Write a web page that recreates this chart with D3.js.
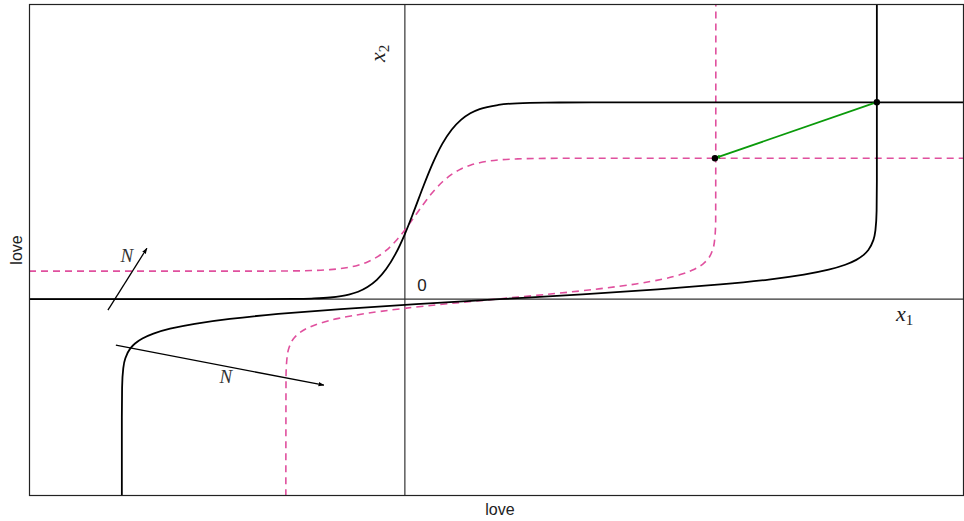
<!DOCTYPE html>
<html>
<head>
<meta charset="utf-8">
<script src="https://cdn.jsdelivr.net/npm/d3@7"></script>
<style>
  body { margin: 0; background: #fff; }
  svg { display: block; }
</style>
</head>
<body>
<div id="chart"></div>
<script>
// sigmoid nullclines x2 = f(x1)
const sigBlack = [
  [-4.02, 0], [-2.0, 0], [-1.5, 0.0005], [-1.2, 0.0023], [-1.0, 0.0064], [-0.8, 0.0173],
  [-0.6, 0.047], [-0.5, 0.076], [-0.4, 0.124], [-0.3, 0.196], [-0.2, 0.306], [-0.1, 0.46],
  [0, 0.662], [0.1, 0.902], [0.2, 1.153], [0.3, 1.385], [0.4, 1.578], [0.5, 1.722],
  [0.6, 1.822], [0.7, 1.889], [0.8, 1.931], [1.0, 1.974], [1.2, 1.991], [1.5, 1.998],
  [2.0, 2.0], [5.98, 2.0]
];
const sigPink = [
  [-4.02, 0.285], [-2.0, 0.285], [-1.5, 0.2856], [-1.2, 0.2874], [-1.0, 0.291], [-0.8, 0.3005],
  [-0.6, 0.3236], [-0.5, 0.3455], [-0.4, 0.3786], [-0.3, 0.4274], [-0.2, 0.4952], [-0.1, 0.5892],
  [0, 0.704], [0.1, 0.835], [0.2, 0.968], [0.3, 1.09], [0.4, 1.191], [0.5, 1.268],
  [0.6, 1.324], [0.7, 1.362], [0.8, 1.387], [1.0, 1.415], [1.2, 1.4258], [1.5, 1.4312],
  [2.0, 1.433], [5.98, 1.433]
];
// inverse nullclines x1 = g(x2)
const invBlack = [
  [-3.027, -2.002], [-3.027, -1.2], [-3.0244, -0.9], [-3.0116, -0.7], [-2.9895, -0.6],
  [-2.936, -0.5], [-2.886, -0.45], [-2.807, -0.4], [-2.689, -0.35], [-2.511, -0.3],
  [-2.247, -0.25], [-1.871, -0.2], [-1.354, -0.15], [-0.685, -0.1], [0.122, -0.05],
  [1.011, 0], [1.899, 0.05], [2.706, 0.1], [3.375, 0.15], [3.892, 0.2], [4.268, 0.25],
  [4.532, 0.3], [4.71, 0.35], [4.828, 0.4], [4.907, 0.45], [4.957, 0.5], [5.0105, 0.6],
  [5.0326, 0.7], [5.0454, 0.9], [5.048, 1.2], [5.048, 3.0]
];
const invPink = [
  [-1.273, -2.002], [-1.2712, -0.795], [-1.2604, -0.595], [-1.24, -0.495], [-1.185, -0.395],
  [-1.131, -0.345], [-1.044, -0.295], [-0.911, -0.245], [-0.709, -0.195], [-0.418, -0.145],
  [-0.022, -0.095], [0.472, -0.045], [1.0265, 0.005], [1.581, 0.055], [2.075, 0.105],
  [2.471, 0.155], [2.762, 0.205], [2.964, 0.255], [3.097, 0.305], [3.184, 0.355],
  [3.238, 0.405], [3.293, 0.505], [3.3134, 0.605], [3.3242, 0.805], [3.326, 3.0]
];
const fixedBlack = [5.048, 2.002];
const fixedPink = [3.316, 1.433];
const arrowsN = [
  { from: [-3.176, -0.112], to: [-2.759, 0.518], label: [-2.973, 0.427] },
  { from: [-3.091, -0.467], to: [-0.866, -0.874], label: [-1.914, -0.803] }
];
const xDomain = [-4.02, 5.98];
const yDomain = [-2, 3];

const W = 964, H = 521;
const margin = { top: 4, right: 0, bottom: 25, left: 29 };
const width = W - margin.left - margin.right;
const height = H - margin.top - margin.bottom;

const svg = d3.select("#chart").append("svg")
  .attr("width", W)
  .attr("height", H);

const defs = svg.append("defs");
defs.append("clipPath").attr("id", "clip")
  .append("rect").attr("width", width).attr("height", height);

function marker(id, color) {
  defs.append("marker")
    .attr("id", id)
    .attr("viewBox", "0 0 10 10")
    .attr("refX", 9).attr("refY", 5)
    .attr("markerWidth", 6).attr("markerHeight", 6)
    .attr("markerUnits", "userSpaceOnUse")
    .attr("orient", "auto")
    .append("path")
    .attr("d", "M0,1.5 L10,5 L0,8.5 Z")
    .attr("fill", color);
}
marker("arrBlack", "#000");
marker("arrGreen", "#0a9a0a");

const g = svg.append("g").attr("transform", `translate(${margin.left},${margin.top})`);

const x = d3.scaleLinear().domain(xDomain).range([0, width]);
const y = d3.scaleLinear().domain(yDomain).range([height, 0]);

const plot = g.append("g").attr("clip-path", "url(#clip)");

// axes through origin
plot.append("line")
  .attr("x1", 0).attr("x2", width)
  .attr("y1", y(0)).attr("y2", y(0))
  .attr("stroke", "#333").attr("stroke-width", 1.2);
plot.append("line")
  .attr("x1", x(0)).attr("x2", x(0))
  .attr("y1", 0).attr("y2", height)
  .attr("stroke", "#333").attr("stroke-width", 1.2);

const lineX = d3.line().x(d => x(d[0])).y(d => y(d[1])).curve(d3.curveMonotoneX);
const lineY = d3.line().x(d => x(d[0])).y(d => y(d[1])).curve(d3.curveMonotoneY);

const pink = "#e0509e";

plot.append("path").datum(sigPink).attr("d", lineX)
  .attr("fill", "none").attr("stroke", pink).attr("stroke-width", 1.6)
  .attr("stroke-dasharray", "7,5");
plot.append("path").datum(invPink).attr("d", lineY)
  .attr("fill", "none").attr("stroke", pink).attr("stroke-width", 1.6)
  .attr("stroke-dasharray", "7,5");
plot.append("path").datum(sigBlack).attr("d", lineX)
  .attr("fill", "none").attr("stroke", "#000").attr("stroke-width", 1.8);
plot.append("path").datum(invBlack).attr("d", lineY)
  .attr("fill", "none").attr("stroke", "#000").attr("stroke-width", 1.8);

// green arrow between fixed points
plot.append("line")
  .attr("x1", x(fixedBlack[0])).attr("y1", y(fixedBlack[1]))
  .attr("x2", x(fixedPink[0])).attr("y2", y(fixedPink[1]))
  .attr("stroke", "#0a9a0a").attr("stroke-width", 1.8)
  .attr("marker-end", "url(#arrGreen)");
plot.selectAll("circle.fp")
  .data([fixedBlack, fixedPink])
  .enter().append("circle")
  .attr("class", "fp")
  .attr("cx", d => x(d[0])).attr("cy", d => y(d[1]))
  .attr("r", 3.2).attr("fill", "#000");

// normal vectors
arrowsN.forEach(a => {
  plot.append("line")
    .attr("x1", x(a.from[0])).attr("y1", y(a.from[1]))
    .attr("x2", x(a.to[0])).attr("y2", y(a.to[1]))
    .attr("stroke", "#000").attr("stroke-width", 1.3)
    .attr("marker-end", "url(#arrBlack)");
  plot.append("text")
    .attr("x", x(a.label[0])).attr("y", y(a.label[1]))
    .attr("text-anchor", "middle")
    .attr("dominant-baseline", "middle")
    .style("font-family", "'Liberation Serif', serif")
    .style("font-style", "italic")
    .style("font-size", "19px")
    .style("fill", "#333")
    .text("N");
});

// frame
g.append("rect")
  .attr("x", 0.5).attr("y", 0.5)
  .attr("width", width - 1).attr("height", height - 1)
  .attr("fill", "none").attr("stroke", "#222").attr("stroke-width", 1.2);

// labels
g.append("text")
  .attr("x", x(0) + 17).attr("y", y(0) - 8)
  .attr("text-anchor", "middle")
  .style("font-family", "'Liberation Sans', Arial, sans-serif")
  .style("font-size", "17px")
  .style("fill", "#222")
  .text("0");

const x1Label = g.append("text")
  .attr("x", 867).attr("y", 317)
  .style("font-family", "'Liberation Serif', serif")
  .style("font-size", "22px")
  .style("fill", "#222");
x1Label.append("tspan").style("font-style", "italic").text("x");
x1Label.append("tspan").attr("dy", 4).style("font-size", "15px").text("1");

const x2Label = g.append("text")
  .attr("transform", `translate(${x(0) - 20},${58}) rotate(-90)`)
  .style("font-family", "'Liberation Serif', serif")
  .style("font-size", "22px")
  .style("fill", "#222");
x2Label.append("tspan").style("font-style", "italic").text("x");
x2Label.append("tspan").attr("dy", 4).style("font-size", "15px").text("2");

svg.append("text")
  .attr("x", 500).attr("y", 515)
  .attr("text-anchor", "middle")
  .style("font-family", "'Liberation Sans', Arial, sans-serif")
  .style("font-size", "16px")
  .style("fill", "#222")
  .text("love");

svg.append("text")
  .attr("transform", `translate(22,250) rotate(-90)`)
  .attr("text-anchor", "middle")
  .style("font-family", "'Liberation Sans', Arial, sans-serif")
  .style("font-size", "16px")
  .style("fill", "#222")
  .text("love");
</script>
</body>
</html>
